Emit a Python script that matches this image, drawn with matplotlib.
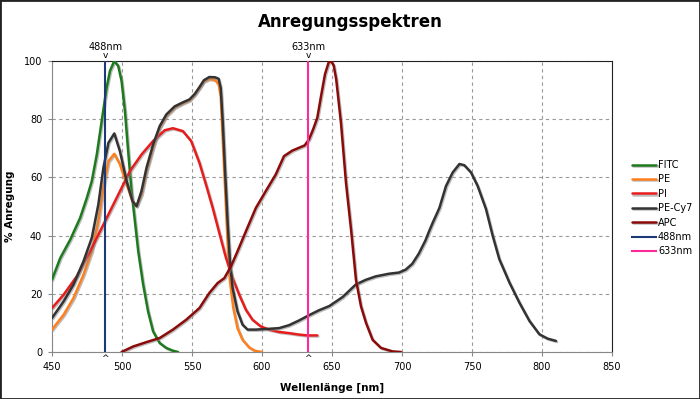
import matplotlib
matplotlib.use('Agg')
import matplotlib.pyplot as plt
import matplotlib.patheffects as pe

# excitation spectra (wavelength nm, % excitation)
fitc_x = [450, 455.9, 463, 470.1, 474.9, 478.4, 482, 485.5, 489, 491.4, 494.5, 497.3, 499.7,
          502.1, 504.4, 506.8, 509.2, 511.6, 515.1, 518.6, 522.2, 526.9, 531.6, 536, 540]
fitc_y = [24.9, 32.3, 38.6, 46.1, 53, 58.7, 67.9, 79.4, 90.8, 96.6, 100, 98.3, 93.1,
          82.8, 69, 55.3, 45, 34.6, 23.2, 14, 7.1, 3.1, 1.4, 0.5, 0]

pe_x = [450, 458.3, 465.4, 472.5, 478.4, 483.1, 486.7, 490.3, 494.5, 498.5, 503.3, 507.5, 510.4,
        513.9, 517.5, 522.2, 526.9, 531.6, 537.6, 543.5, 548.2, 552, 555.3, 558.5, 562.4,
        566.5, 569, 570.5, 571.9, 573.6, 575.4, 577.1, 579.5, 582.5, 586.1, 590.8, 595, 600]
pe_y = [7.7, 12.8, 18.6, 26.6, 34.6, 45, 56.4, 65.6, 68.1, 64.5, 57.6, 51.8, 50.1,
        54.1, 62.1, 70.2, 77.1, 81.1, 84, 85.5, 86.5, 88.5, 90.8, 93, 93.8,
        93.5, 92, 88, 73.6, 56.4, 38, 24.3, 15.1, 8.2, 4.2, 1.6, 0.4, 0]

pi_x = [450, 458.3, 467.7, 477.2, 486.7, 496.2, 505.7, 514, 522.2, 530.5, 536.4, 543.5, 549.4,
        555.3, 560, 564.8, 569.5, 574.3, 579, 583.7, 588.5, 593.2, 599.1, 605, 612.1, 619.2,
        626.3, 632.3, 639.5]
pi_y = [15.1, 19.7, 26, 34.6, 43.8, 53, 62.2, 67.9, 72.5, 76.2, 76.9, 75.9, 72.5,
        65, 57.5, 49.5, 40.9, 32.3, 25.4, 19.7, 14.5, 11.1, 8.8, 7.7, 6.9, 6.5,
        6, 5.7, 5.7]

cy7_x = [450, 458.3, 465.4, 472.5, 478.4, 483.1, 486.7, 490.3, 494.5, 498.5, 503.3, 507.5, 510.4,
         513.9, 517.5, 522.2, 526.9, 531.6, 537.6, 543.5, 548.2, 552, 555.3, 558.5, 562.4, 566.5,
         569, 570.5, 571.9, 573.6, 575.4, 577.1, 579, 582.5, 586.1, 589.7, 595.6, 602.7, 612.1,
         619.2, 626.3, 633.4, 640.5, 648.1, 657.6, 667, 674.1, 681.3, 690.7, 697.8, 702.6,
         707.3, 712, 716.8, 719.1, 722, 726.7, 731.4, 736.2, 741, 744.5, 749.3, 754, 760,
         764.8, 769.5, 776.7, 783.8, 791, 798.1, 804, 810]
cy7_y = [11.7, 17.4, 23.2, 31.2, 39.2, 50.7, 63.3, 71.9, 75.1, 69, 58.7, 51.8, 50.1,
         55.3, 63.3, 71.3, 77.6, 81.6, 84.4, 85.8, 86.8, 88.7, 91, 93.4, 94.5, 94.4,
         93.9, 90.8, 79.4, 62.1, 44.9, 31.2, 22, 14, 9.4, 7.7, 7.7, 7.9, 8.2,
         9.2, 10.8, 12.6, 14.3, 15.8, 18.9, 23.2, 24.8, 26, 26.9, 27.3, 28.3,
         30.3, 33.8, 38.4, 41.2, 44.5, 49.5, 57, 61.7, 64.6, 64.2, 61.7, 57.1, 49.1,
         39.9, 31.9, 23.9, 17, 10.7, 6.1, 4.6, 3.8]

apc_x = [499.7, 508, 517.5, 526.9, 536.4, 545.9, 555.3, 562.4, 568.3, 573.1, 577.8, 582.5,
         588.5, 595.6, 602.7, 609.8, 615.7, 621.6, 626.5, 630.5, 633.5, 636.5, 639.5, 642.2,
         645, 647.6, 649.3, 651.2, 653, 656.4, 660, 663.6, 667.1, 670.7, 674.3, 679, 685,
         693.3, 699.3]
apc_y = [0, 1.9, 3.4, 4.8, 7.7, 11.1, 15.1, 20.3, 23.7, 25.4, 29.4, 34.6,
         41.5, 49.5, 55.3, 61, 67.3, 69.2, 70.2, 71, 73, 76.5, 80.5, 88,
         95.5, 99.5, 100, 98.5, 93.7, 78.8, 58.1, 42.1, 24.9, 15.7, 10, 4.2, 1.4,
         0.2, 0]

lasers = [488, 633]
laser_labels = ['488nm', '633nm']

series = [
    ('FITC', fitc_x, fitc_y, '#1e7a1e'),
    ('PE', pe_x, pe_y, '#ff7f1e'),
    ('PI', pi_x, pi_y, '#e81c1c'),
    ('PE-Cy7', cy7_x, cy7_y, '#333333'),
    ('APC', apc_x, apc_y, '#8b0a0a'),
]
laser_colors = ['#1c3a78', '#ff2a9a']

fig = plt.figure(figsize=(7, 3.99), dpi=100)
ax = fig.add_axes([52 / 700, 1 - 352 / 399, 560 / 700, 291 / 399])

shadow = [pe.SimpleLineShadow(offset=(0.8, -0.8), shadow_color='#888888', alpha=0.55), pe.Normal()]
for name, xs, ys, col in series:
    ax.plot(xs, ys, color=col, lw=1.8, label=name, path_effects=shadow, zorder=3,
            solid_joinstyle='round', solid_capstyle='round')

for wl, lab, col in zip(lasers, laser_labels, laser_colors):
    ax.axvline(wl, color=col, lw=1.5, label=lab, zorder=4)
    ax.text(wl, 100.3, 'v', ha='center', va='bottom', fontsize=6.5, clip_on=False)
    ax.text(wl, 103.2, lab, ha='center', va='bottom', fontsize=7, clip_on=False)
    ax.text(wl, -0.8, '^', ha='center', va='top', fontsize=6.5, clip_on=False)

ax.set_xlim(450, 850)
ax.set_ylim(0, 100)
ax.set_xticks(range(450, 851, 50))
ax.set_yticks(range(0, 101, 20))
ax.tick_params(labelsize=7, length=3, color='#888888', pad=4)
ax.grid(True, ls=(0, (3, 3)), color='#999999', lw=0.8)
for s in ['left', 'bottom']:
    ax.spines[s].set_color('#888888')
for s in ['top', 'right']:
    ax.spines[s].set_color('#222222')

ax.set_xlabel('Wellenlänge [nm]', fontsize=7.5, fontweight='bold')
ax.xaxis.set_label_coords(0.5, -0.104)
ax.set_ylabel('% Anregung', fontsize=7.5, fontweight='bold')
ax.yaxis.set_label_coords(-0.066, 0.5)
fig.text(0.5, 1 - 22 / 399, 'Anregungsspektren', ha='center', va='center',
         fontsize=12, fontweight='bold')

ax.legend(loc='upper left', bbox_to_anchor=(1.029, 0.673), frameon=False, fontsize=7,
          handlelength=2.5, handletextpad=0.15, labelspacing=0.45, borderaxespad=0)

fig.patches.append(plt.Rectangle((0, 0), 1, 1, transform=fig.transFigure, fill=False,
                                 edgecolor='#222222', lw=2))
fig.savefig('out.png', dpi=100)
